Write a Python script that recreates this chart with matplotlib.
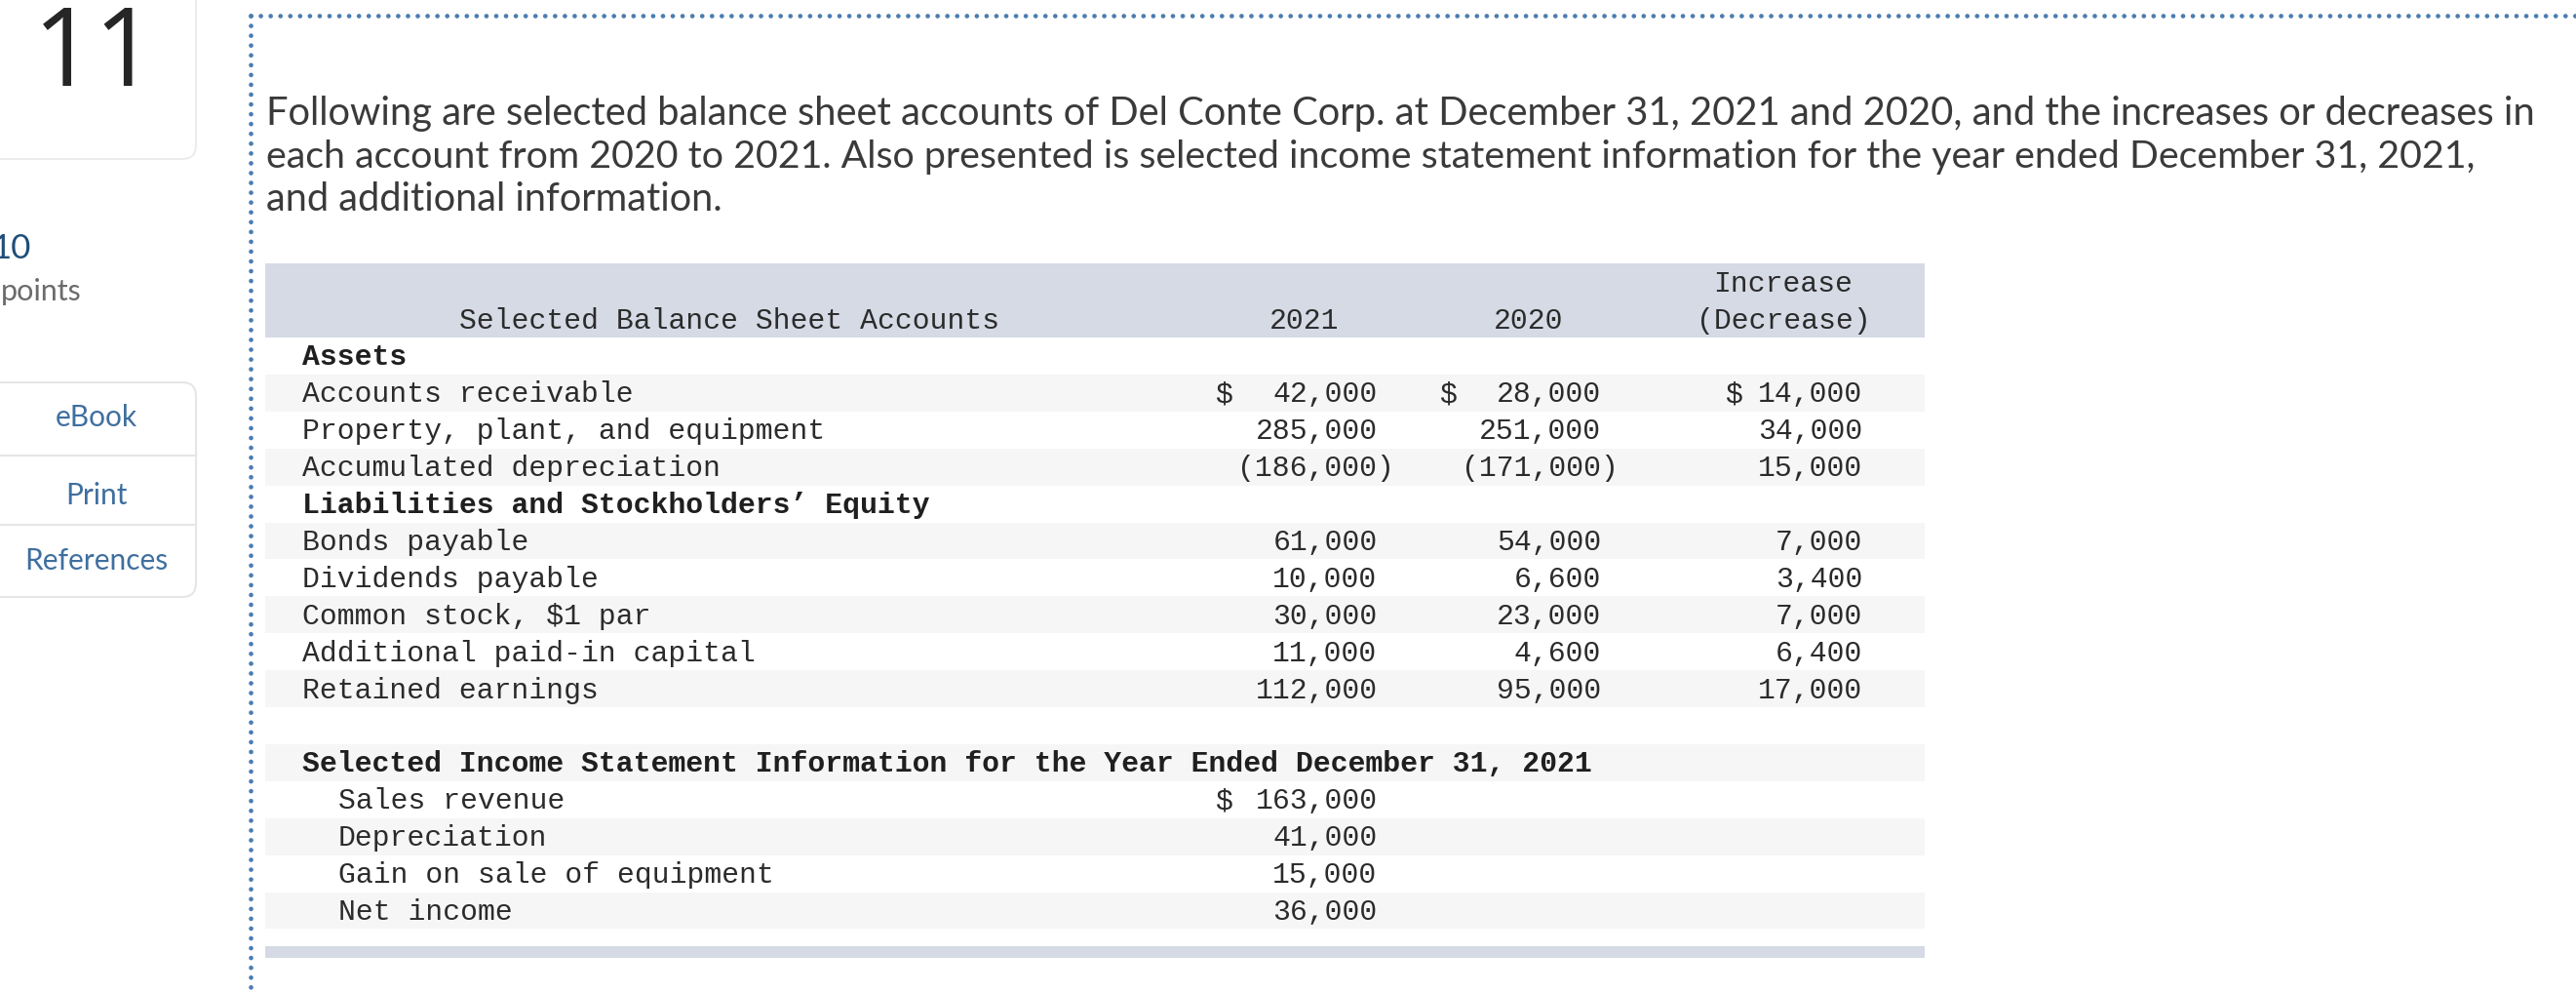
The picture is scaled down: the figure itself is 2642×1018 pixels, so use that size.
import matplotlib
matplotlib.use('Agg')
import matplotlib.pyplot as plt
from matplotlib.patches import Rectangle, FancyBboxPatch

# textos
intro = ['Following are selected balance sheet accounts of Del Conte Corp. at December 31, 2021 and 2020, and the increases or decreases in',
         'each account from 2020 to 2021. Also presented is selected income statement information for the year ended December 31, 2021,',
         'and additional information.']
side_links = ['eBook', 'Print', 'References']

# tabla: una entrada por fila
labels = ['Assets', 'Accounts receivable', 'Property, plant, and equipment', 'Accumulated depreciation',
          'Liabilities and Stockholders’ Equity', 'Bonds payable', 'Dividends payable', 'Common stock, $1 par',
          'Additional paid-in capital', 'Retained earnings', '',
          'Selected Income Statement Information for the Year Ended December 31, 2021',
          'Sales revenue', 'Depreciation', 'Gain on sale of equipment', 'Net income']
values_2021 = [None, 42000, 285000, -186000, None, 61000, 10000, 30000, 11000, 112000, None, None, 163000, 41000, 15000, 36000]
values_2020 = [None, 28000, 251000, -171000, None, 54000, 6600, 23000, 4600, 95000, None, None, None, None, None, None]
changes = [None, 14000, 34000, 15000, None, 7000, 3400, 7000, 6400, 17000, None, None, None, None, None, None]
bold_rows = [0, 4, 11]
indented_rows = [12, 13, 14, 15]
dollars_2021 = [1, 12]
dollars_2020 = [1]
dollars_change = [1]

TXT = '#2b2b2b'
BLUE = '#3f6f9f'
MONO = 'Liberation Mono'
MONO_SIZE = 21.4
ROW_H = 37.9
TOP = 346
CHAR_W = 17.85


def fmt(v):
    if v < 0:
        return f'({-v:,})'
    return f'{v:,}'


def draw_column(ax, values, right, dollar_rows, dollar_x):
    for i, v in enumerate(values):
        if v is None:
            continue
        base = TOP + i * ROW_H + 28.5
        # el paréntesis de cierre queda fuera de la columna
        x = right + CHAR_W if v < 0 else right
        ax.text(x, base, fmt(v), ha='right', va='baseline', family=MONO, fontsize=MONO_SIZE, color=TXT)
        if i in dollar_rows:
            ax.text(dollar_x, base, '$', ha='left', va='baseline', family=MONO, fontsize=MONO_SIZE, color=TXT)


fig = plt.figure(figsize=(26.42, 10.18), dpi=100)
ax = fig.add_axes([0, 0, 1, 1])
ax.set_xlim(0, 2642)
ax.set_ylim(1018, 0)
ax.axis('off')

# borde punteado
ax.plot([257, 2642], [16, 16], color='#4a7db0', lw=3.4, ls=(0, (0.01, 2.12)), dash_capstyle='round')
ax.plot([257, 257], [16, 1018], color='#4a7db0', lw=3.4, ls=(0, (0.01, 2.12)), dash_capstyle='round')

# barra lateral
ax.add_patch(FancyBboxPatch((-40, -40), 241, 203, boxstyle='round,pad=0,rounding_size=14',
                            fc='white', ec='#ececec', lw=1.5))
ax.add_patch(FancyBboxPatch((-40, 392), 241, 220, boxstyle='round,pad=0,rounding_size=14',
                            fc='white', ec='#e6e6e6', lw=1.5))
for y in [467, 538]:
    ax.plot([0, 201], [y, y], color='#e6e6e6', lw=1.5)
ax.text(97, 88, '11', ha='center', va='baseline', family='Open Sans', fontsize=80, color='#262626')
ax.text(31, 265, '10', ha='right', va='baseline', family='Lato', fontsize=25, color='#1f4e79')
ax.text(84, 308, 'points', ha='right', va='baseline', family='Lato', fontsize=22, color='#6b6b6b')
for name, y in zip(side_links, [428, 508, 575]):
    ax.text(99, y, name, ha='center', va='center', family='Lato', fontsize=21.5, color=BLUE)

# párrafo
for line, y, size in zip(intro, [128, 172, 216], [28.75, 28.4, 28.6]):
    ax.text(273, y, line, ha='left', va='baseline', family='Lato', fontsize=size, color='#3a3a3a')

# bandas de la tabla
ax.add_patch(Rectangle((272, 270), 1702, 76, fc='#d5dae5', ec='none'))
for i in range(1, 16, 2):
    ax.add_patch(Rectangle((272, TOP + i * ROW_H), 1702, ROW_H, fc='#f6f6f6', ec='none'))
ax.add_patch(Rectangle((272, 970), 1702, 12, fc='#d5dae5', ec='none'))

# encabezados
for s, x, y in [('Selected Balance Sheet Accounts', 748, 337), ('2021', 1338, 337), ('2020', 1568, 337),
                ('Increase', 1829, 299), ('(Decrease)', 1829, 337)]:
    ax.text(x, y, s, ha='center', va='baseline', family=MONO, fontsize=MONO_SIZE, color=TXT)

# filas
for i, label in enumerate(labels):
    x = 347 if i in indented_rows else 310
    ax.text(x, TOP + i * ROW_H + 28.5, label, ha='left', va='baseline', family=MONO, fontsize=MONO_SIZE,
            color='#1f1f1f' if i in bold_rows else TXT, weight='bold' if i in bold_rows else 'normal')

draw_column(ax, values_2021, 1412.5, dollars_2021, 1246)
draw_column(ax, values_2020, 1642, dollars_2020, 1476)
draw_column(ax, changes, 1910, dollars_change, 1769)

fig.savefig('out.png', dpi=100)
